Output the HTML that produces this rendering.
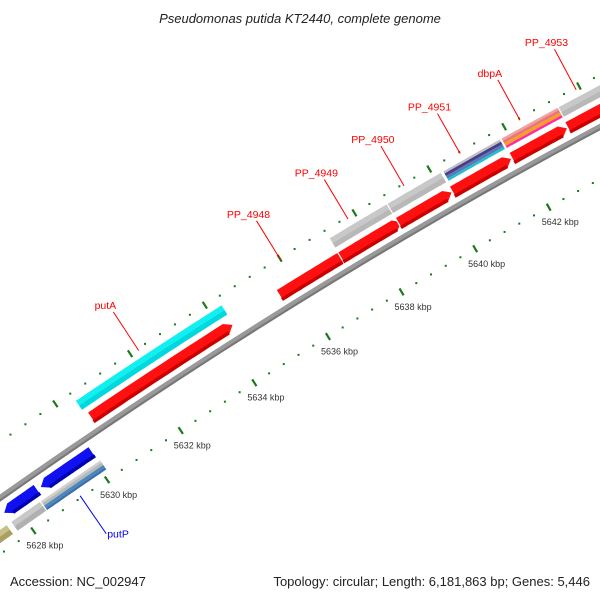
<!DOCTYPE html>
<html><head><meta charset="utf-8"><style>
html,body{margin:0;padding:0;background:#fff;}
svg{display:block;font-family:"Liberation Sans",sans-serif;}
</style></head><body>
<svg id="map" width="600" height="600" viewBox="0 0 600 600" xmlns="http://www.w3.org/2000/svg">
<text x="300" y="23" text-anchor="middle" font-size="13" font-style="italic" fill="#222">Pseudomonas putida KT2440, complete genome</text>
<g id="ticks"></g>
<g id="backbone"></g>
<g id="features"></g>
<g id="labels"></g>
<text x="10" y="586" font-size="13" fill="#222">Accession: NC_002947</text>
<text x="590" y="586" text-anchor="end" font-size="13" fill="#222">Topology: circular; Length: 6,181,863 bp; Genes: 5,446</text>
</svg>
<script>
// data (kbp)
const tickStart = 5626.8;
const tickEnd = 5646;
const majorTicks = [5628, 5630, 5632, 5634, 5636, 5638, 5640, 5642, 5644];
const fwdStarts = [5630.48, 5635.55, 5637.2, 5638.75, 5640.2, 5641.8, 5643.3];
const fwdEnds   = [5634.31, 5637.37, 5638.84, 5640.2, 5641.8, 5643.3, 5645.2];
const fwdNames  = ["putA", "PP_4948", "PP_4949", "PP_4950", "PP_4951", "dbpA", "PP_4953"];
const upStarts = [5630.4, 5637.2, 5638.75, 5640.24, 5641.8, 5643.33];
const upEnds   = [5634.33, 5638.8, 5640.2, 5641.78, 5643.33, 5645.2];
const upColors = [["#11f0f0","#00d8e0"],["#c8c8c8","#b8b8b8"],["#c8c8c8","#b8b8b8"],["#c0c0c0","#483d8b","#5a78b4","#20c0d0"],["#f2a0a0","#e87878","#f5a020","#ff2aa0"],["#c8c8c8","#b8b8b8"]];
const revStarts = [5627.68, 5628.67];
const revEnds   = [5628.6, 5630.08];
const lowStarts = [5627.0, 5627.7, 5628.5];
const lowEnds   = [5627.6, 5628.55, 5630.13];
const lowColors = [["#c8c08a","#a8a060"],["#c8c8c8","#b0b0b0"],["#d0d0d0","#b8b8b8","#4a86c0","#3a70a8"]];
const labelNames = ["putP","putA","PP_4948","PP_4949","PP_4950","PP_4951","dbpA","PP_4953"];
const labelKbp   = [5629.3, 5632.2, 5636.0, 5637.8, 5639.3, 5640.8, 5642.4, 5643.9];
const labelSide  = [1, -1, -1, -1, -1, -1, -1, -1];

const NS="http://www.w3.org/2000/svg";
function T(k){return 7+(k-5628)*37.1;}
function f(t){return 498-0.7033*t+0.0001414*t*t;}
function fp(t){return -0.7033+0.0002828*t;}
function pt(t,d){const s=fp(t),N=Math.sqrt(1+s*s);return [t+d*(-s)/N, f(t)+d/N];}
function mk(tag,attrs,parent){const e=document.createElementNS(NS,tag);for(const k in attrs)e.setAttribute(k,attrs[k]);parent.appendChild(e);return e;}
function band(t0,t1,d0,d1){const a=[],b=[];const n=20;for(let i=0;i<=n;i++){const t=t0+(t1-t0)*i/n;a.push(pt(t,d0));b.push(pt(t,d1));}return a.concat(b.reverse());}
function ps(arr){return arr.map(p=>p[0].toFixed(1)+","+p[1].toFixed(1)).join(" ");}

const ticksG=document.getElementById('ticks');
for(let k=tickStart;k<=tickEnd+1e-6;k+=0.4){
  const kk=Math.round(k*10)/10;const t=T(kk);
  const major=majorTicks.some(m=>Math.abs(m-kk)<1e-6);
  [46,-46].forEach(d=>{
    if(major){const a=pt(t,d-4),b=pt(t,d+4);
      const l=mk('line',{x1:a[0],y1:a[1],x2:b[0],y2:b[1],stroke:'#1a7a1a','stroke-width':2.2},ticksG);
      
      
    }else{const a=pt(t,d);
      const r=mk('rect',{x:a[0]-1,y:a[1]-1,width:2,height:2,fill:'#1a7a1a'},ticksG);
      
      }
  });
  if(major){const a=pt(t,46);
    const tx=mk('text',{x:a[0]-7,y:a[1]+18,'font-size':9,fill:'#333'},ticksG);
    tx.textContent=kk+" kbp";
    
    }
}

const bb=document.getElementById('backbone');
const bp=mk('polygon',{points:ps(band(-40,700,-3,3)),fill:'#999'},bb);


const bp2=mk('polygon',{points:ps(band(-40,700,1,3)),fill:'#777'},bb);



const fg=document.getElementById('features');
function arrow(t0,t1,d0,d1,fwd,color,dark,name){
  const h=7,dm=(d0+d1)/2,pts=[];const n=16;
  if(fwd){for(let i=0;i<=n;i++)pts.push(pt(t0+(t1-h-t0)*i/n,d0));pts.push(pt(t1,dm));for(let i=n;i>=0;i--)pts.push(pt(t0+(t1-h-t0)*i/n,d1));}
  else{pts.push(pt(t0,dm));for(let i=0;i<=n;i++)pts.push(pt(t0+h+(t1-t0-h)*i/n,d0));for(let i=n;i>=0;i--)pts.push(pt(t0+h+(t1-t0-h)*i/n,d1));}
  const p=mk('polygon',{points:ps(pts),fill:color,stroke:'#fff','stroke-width':1.2},fg);
  
  
  const s=mk('polygon',{points:ps(band(fwd?t0:t0+h,fwd?t1-h:t1,d1-3.5,d1)),fill:dark},fg);
  
  
}
function bar(t0,t1,d0,d1,colors,name){
  const w=(d1-d0)/colors.length;
  colors.forEach((c,i)=>{const r=mk('polygon',{points:ps(band(t0,t1,d0+w*i,d0+w*(i+1))),fill:c},fg);
    
    });
  const o=mk('polygon',{points:ps(band(t0,t1,d0,d1)),fill:'none',stroke:'#fff','stroke-width':1.2},fg);
  
  
}
fwdStarts.forEach((s,i)=>arrow(T(s),T(fwdEnds[i]),-21,-8,true,'#ff1010','#c80000','cds-'+fwdNames[i]));
upStarts.forEach((s,i)=>bar(T(s),T(upEnds[i]),-37.5,-25.5,upColors[i],'gene-bar-'+i));
revStarts.forEach((s,i)=>arrow(T(s),T(revEnds[i]),8,21,false,'#1010f0','#0000b0','cds-reverse-'+i));
lowStarts.forEach((s,i)=>bar(T(s),T(lowEnds[i]),25.5,37.5,lowColors[i],'gene-bar-reverse-'+i));

const lg=document.getElementById('labels');
labelNames.forEach((nm,i)=>{
  const t=T(labelKbp[i]),sd=labelSide[i];const col=sd>0?'#0000ee':'#ff0000';
  const a=pt(t,sd*44),b=pt(t,sd*90);
  const l=mk('line',{x1:a[0],y1:a[1],x2:b[0],y2:b[1],stroke:col,'stroke-width':1},lg);
  
  
  const tx=mk('text',{x:sd>0?b[0]+1:b[0]-8,y:sd>0?b[1]+4:b[1]-3,'font-size':10.5,fill:col,'text-anchor':sd>0?'start':'middle'},lg);
  tx.textContent=nm;
  
  
});
</script>
</body></html>
